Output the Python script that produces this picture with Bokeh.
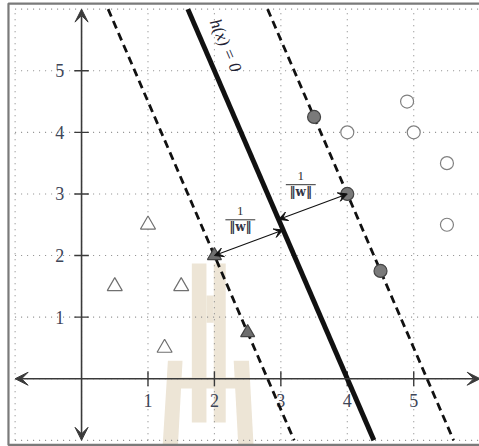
import math
from bokeh.plotting import figure
from bokeh.models import Range1d, Arrow, VeeHead
from bokeh.core.properties import value
from bokeh.embed import file_html
from bokeh.resources import INLINE

# ---- samples -------------------------------------------------------------
# class -1 (triangles)
neg_x = [1.0, 0.5, 1.5, 1.25]
neg_y = [2.5, 1.5, 1.5, 0.5]
neg_sv_x = [2.0, 2.5]          # support vectors on the lower margin
neg_sv_y = [2.0, 0.75]
# class +1 (circles)
pos_x = [4.9, 4.0, 5.0, 5.5, 5.5]
pos_y = [4.5, 4.0, 4.0, 3.5, 2.5]
pos_sv_x = [3.5, 4.0, 4.5]     # support vectors on the upper margin
pos_sv_y = [4.25, 3.0, 1.75]

# ---- separating hyperplane h(x) = w.x + b -------------------------------
w = (2.5, 1.0)
b = -10.0
levels = [-3.0, 0.0, 3.0]      # lower margin, boundary, upper margin

ticks = [1, 2, 3, 4, 5]
grid_vals = list(range(-1, 7))
axis_lo, axis_hi = -1.0, 6.0

# background crest (rectangles / legs), data units
crest_quads_l = [1.66, 1.99, 1.88, 1.30]
crest_quads_r = [1.88, 2.17, 1.99, 2.52]
crest_quads_b = [-0.71, -0.71, 0.91, -0.16]
crest_quads_t = [1.87, 1.87, 1.35, 0.02]
crest_legs_xs = [[1.30, 1.52, 1.45, 1.22], [2.29, 2.52, 2.59, 2.36]]
crest_legs_ys = [[0.29, 0.29, -1.10, -1.10], [0.29, 0.29, -1.10, -1.10]]

INK = "#3d4557"
SERIF = "Liberation Serif"

p = figure(width=479, height=446,
           x_range=Range1d(-1.22, 5.99), y_range=Range1d(-1.10, 6.14),
           x_axis_location=None, y_axis_location=None,
           output_backend="svg", toolbar_location=None, min_border=0)
p.grid.visible = False
p.outline_line_color = None
p.background_fill_color = "white"
p.border_fill_color = "white"

# crest
crest = "#ede5d6"
p.quad(left=crest_quads_l, right=crest_quads_r, bottom=crest_quads_b, top=crest_quads_t,
       fill_color=crest, line_color=None)
p.patches(xs=crest_legs_xs, ys=crest_legs_ys, fill_color=crest, line_color=None)

# frame
p.line(x=[6.2, -1.10, -1.10, 6.2], y=[6.09, 6.09, -1.075, -1.075],
       line_color="#7a7a7a", line_width=2.2)

# dotted grid
p.segment(x0=grid_vals, y0=[axis_lo] * len(grid_vals), x1=grid_vals, y1=[axis_hi] * len(grid_vals),
          line_color="#8a8a8a", line_width=1.1, line_dash="1 5")
p.segment(x0=[axis_lo] * len(grid_vals), y0=grid_vals, x1=[axis_hi] * len(grid_vals), y1=grid_vals,
          line_color="#8a8a8a", line_width=1.1, line_dash="1 5")

# axes with arrowheads at both ends
for xs, ys, xe, ye in [(axis_lo, 0, axis_hi, 0), (0, axis_lo, 0, axis_hi)]:
    p.add_layout(Arrow(x_start=xs, y_start=ys, x_end=xe, y_end=ye,
                       line_color="#3a3a3a", line_width=1.6,
                       start=VeeHead(size=13, line_color="#3a3a3a", fill_color="#3a3a3a", line_width=1),
                       end=VeeHead(size=13, line_color="#3a3a3a", fill_color="#3a3a3a", line_width=1)))

# tick marks
p.segment(x0=ticks, y0=[-0.12] * 5, x1=ticks, y1=[0.12] * 5, line_color="#3a3a3a", line_width=1.4)
p.segment(x0=[-0.11] * 5, y0=ticks, x1=[0.11] * 5, y1=ticks, line_color="#3a3a3a", line_width=1.4)

# tick labels
labels = [str(t) for t in ticks]
p.text(x=ticks, y=[-0.36] * 5, text=labels, text_align="center", text_baseline="middle",
       text_font=value(SERIF), text_font_size="18px", text_color=INK)
p.text(x=[-0.33] * 5, y=ticks, text=labels, text_align="center", text_baseline="middle",
       text_font=value(SERIF), text_font_size="18px", text_color=INK)

# boundary and margins
for lvl in levels:
    x_at = lambda yy: (lvl - b - w[1] * yy) / w[0]
    if lvl == 0:
        p.line(x=[x_at(axis_hi), x_at(axis_lo)], y=[axis_hi, axis_lo],
               line_color="#111111", line_width=5)
    else:
        p.line(x=[x_at(axis_hi), x_at(axis_lo)], y=[axis_hi, axis_lo],
               line_color="#111111", line_width=2.8, line_dash="8 5")

# label on the boundary
ang = -math.atan2(w[0] * 61.6, w[1] * 66.4)
p.text(x=[2.17], y=[5.41], text=["h(x) = 0"], angle=ang, text_align="center",
       text_baseline="middle", text_font=value(SERIF), text_font_style="italic",
       text_font_size="17px", text_color="#222233")

# distances from two support vectors to the boundary
ww = w[0] ** 2 + w[1] ** 2
for (sx, sy), (lx, ly) in [((neg_sv_x[0], neg_sv_y[0]), (2.39, 2.58)),
                           ((pos_sv_x[1], pos_sv_y[1]), (3.30, 3.15))]:
    h = w[0] * sx + w[1] * sy + b
    fx, fy = sx - h / ww * w[0], sy - h / ww * w[1]
    p.add_layout(Arrow(x_start=sx, y_start=sy, x_end=fx, y_end=fy,
                       line_color="#111111", line_width=1.1,
                       start=VeeHead(size=9, line_color="#111111", fill_color="#111111", line_width=1),
                       end=VeeHead(size=9, line_color="#111111", fill_color="#111111", line_width=1)))
    p.segment(x0=[lx - 0.225], y0=[ly], x1=[lx + 0.225], y1=[ly], line_color="#333333", line_width=1)
    p.text(x=[lx], y=[ly + 0.14], text=["1"], text_align="center", text_baseline="middle",
           text_font=value(SERIF), text_font_size="13px", text_color="#333333")
    p.text(x=[lx], y=[ly - 0.12], text=["‖w‖"], text_align="center", text_baseline="middle",
           text_font=value("DejaVu Serif"), text_font_style="bold", text_font_size="12px",
           text_color="#333344")

# samples
p.scatter(neg_x, neg_y, marker="triangle", size=15, fill_color="white",
          line_color="#707070", line_width=1.2)
p.scatter(neg_sv_x, neg_sv_y, marker="triangle", size=14, fill_color="#6e6e6e",
          line_color="#444444", line_width=1.2)
p.scatter(pos_x, pos_y, marker="circle", size=13, fill_color="white",
          line_color="#808080", line_width=1.2)
p.scatter(pos_sv_x, pos_sv_y, marker="circle", size=13, fill_color="#7a7a7a",
          line_color="#444444", line_width=1.2)

open("out.html", "w").write(file_html(p, INLINE))
